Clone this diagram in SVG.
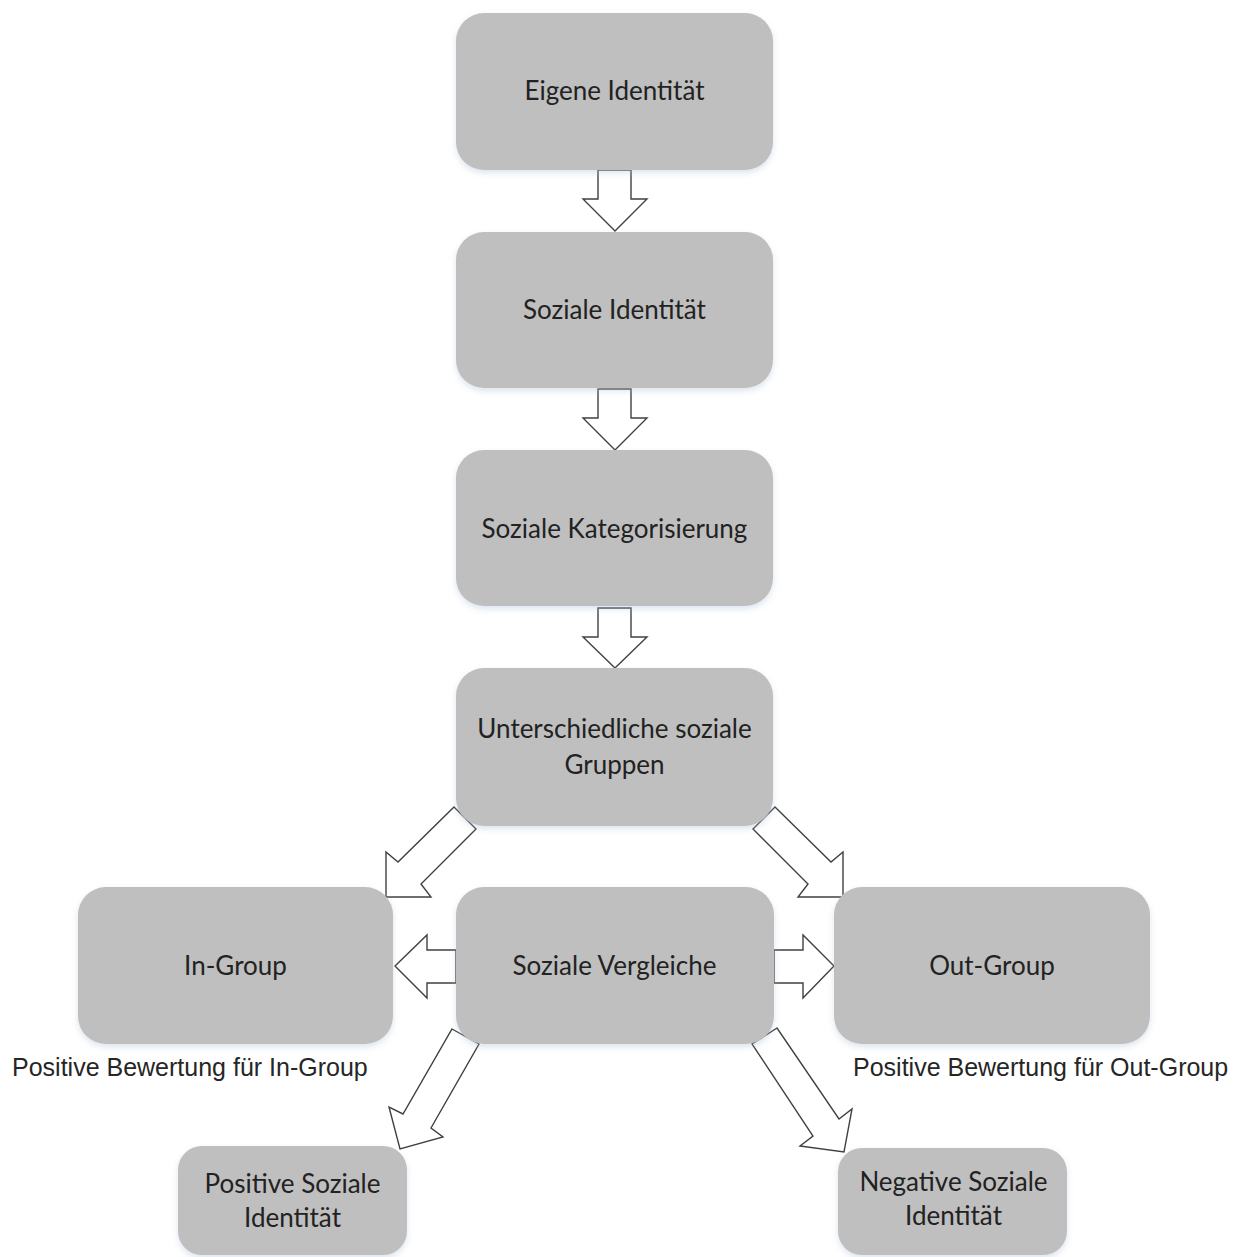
<svg xmlns="http://www.w3.org/2000/svg" width="1248" height="1257" viewBox="0 0 1248 1257">
  <defs>
    <filter id="soft" x="-10%" y="-10%" width="120%" height="130%">
      <feGaussianBlur in="SourceAlpha" stdDeviation="3"/>
      <feOffset dx="0" dy="3" result="b"/>
      <feFlood flood-color="#a9bcd6" flood-opacity="0.4"/>
      <feComposite in2="b" operator="in"/>
      <feMerge><feMergeNode/><feMergeNode in="SourceGraphic"/></feMerge>
    </filter>
    <style>
      .box { fill: #bfbfbf; filter: url(#soft); }
      .lbl { font-family: Lato, "Open Sans", sans-serif; font-size: 26px; fill: #222222; text-anchor: middle; }
      .note { font-family: "Liberation Sans", Arial, sans-serif; font-size: 25px; fill: #262626; }
      .arr { fill: #ffffff; stroke: #404040; stroke-width: 1.4; stroke-linejoin: miter; }
    </style>
  </defs>
  <rect width="1248" height="1257" fill="#ffffff"/>

  <!-- connectors: block arrows -->
  <g id="connectors">
    <polygon class="arr" points="598,170 631,170 631,199 647,199 615,231 583,199 598,199"/>
    <polygon class="arr" points="598,389 631,389 631,418 647,418 615,450 583,418 598,418"/>
    <polygon class="arr" points="598,608 631,608 631,637 647,637 615,668 583,637 598,637"/>
    <polygon class="arr" points="454,807 476,829 421,884 431,897 386,897 386,852 398,862"/>
    <polygon class="arr" points="775,807 753,829 808,884 798,897 843,897 843,852 831,862"/>
    <polygon class="arr" points="456,950 427,950 427,935 395,966 427,998 427,983 456,983"/>
    <polygon class="arr" points="774,950 803,950 803,935 834,966 803,998 803,983 774,983"/>
    <polygon class="arr" points="452,1029 479,1044 431,1128 443,1137 400,1149 389,1107 403,1114"/>
    <polygon class="arr" points="777,1028 752,1044 813,1136 800,1146 844,1152 852,1109 839,1119"/>
  </g>

  <g id="eigene-identitaet">
    <rect class="box" x="456" y="13" width="317" height="157" rx="28"/>
    <text class="lbl" x="614.5" y="100">Eigene Identität</text>
  </g>
  <g id="soziale-identitaet">
    <rect class="box" x="456" y="232" width="317" height="156" rx="28"/>
    <text class="lbl" x="614.5" y="319">Soziale Identität</text>
  </g>
  <g id="soziale-kategorisierung">
    <rect class="box" x="456" y="450" width="317" height="156" rx="28"/>
    <text class="lbl" x="614.5" y="538">Soziale Kategorisierung</text>
  </g>
  <g id="unterschiedliche-gruppen">
    <rect class="box" x="456" y="668" width="317" height="158" rx="28"/>
    <text class="lbl" x="614.5" y="738">Unterschiedliche soziale</text>
    <text class="lbl" x="614.5" y="774">Gruppen</text>
  </g>
  <g id="in-group">
    <rect class="box" x="78" y="887" width="315" height="157" rx="28"/>
    <text class="lbl" x="235.5" y="975">In-Group</text>
  </g>
  <g id="soziale-vergleiche">
    <rect class="box" x="456" y="887" width="318" height="157" rx="28"/>
    <text class="lbl" x="614.5" y="975">Soziale Vergleiche</text>
  </g>
  <g id="out-group">
    <rect class="box" x="834" y="887" width="316" height="157" rx="28"/>
    <text class="lbl" x="992" y="975">Out-Group</text>
  </g>
  <g id="positive-soziale-identitaet">
    <rect class="box" x="178" y="1146" width="229" height="109" rx="24"/>
    <text class="lbl" x="292.5" y="1193">Positive Soziale</text>
    <text class="lbl" x="292.5" y="1227">Identität</text>
  </g>
  <g id="negative-soziale-identitaet">
    <rect class="box" x="838" y="1148" width="229" height="107" rx="24"/>
    <text class="lbl" x="953.5" y="1191">Negative Soziale</text>
    <text class="lbl" x="953.5" y="1225">Identität</text>
  </g>

  <g id="bewertung-labels">
    <text class="note" x="12" y="1076">Positive Bewertung für In-Group</text>
    <text class="note" x="853" y="1076">Positive Bewertung für Out-Group</text>
  </g>
</svg>
